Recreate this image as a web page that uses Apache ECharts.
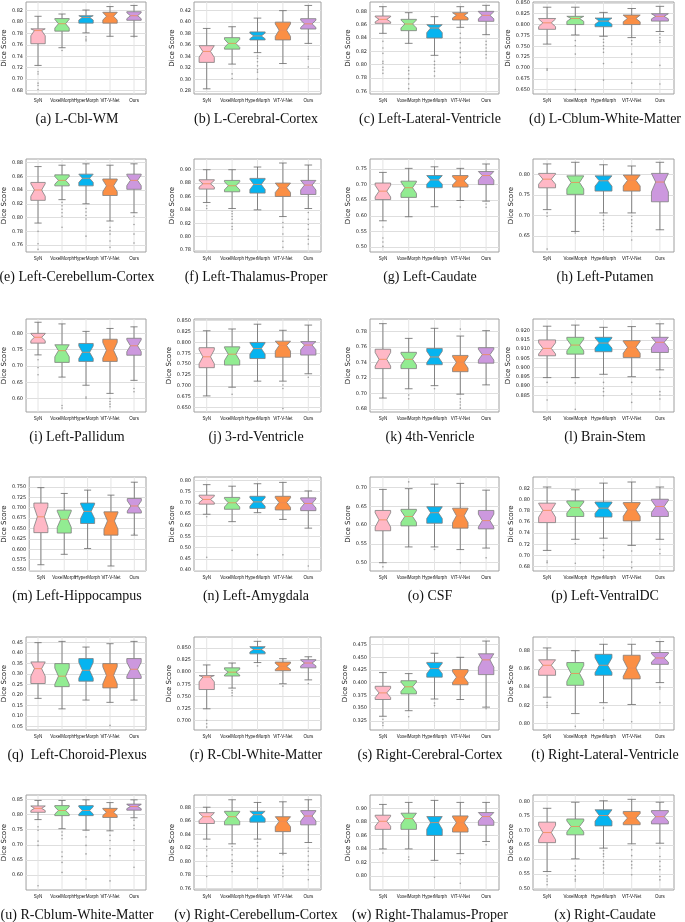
<!DOCTYPE html>
<html><head><meta charset="utf-8">
<script src="https://cdn.jsdelivr.net/npm/echarts@6/dist/echarts.min.js"></script>
<style>html,body{margin:0;padding:0;background:#fff}#c{width:685px;height:922px}</style>
</head><body><div id="c"></div>
<script>
const methods = ['SyN','VoxelMorph','HyperMorph','ViT-V-Net','Ours'];
const boxColors = ['#FFB8C6','#92EC92','#06B4F0','#FB8F45','#CC98DE'];
const captions = ['(a) L-Cbl-WM','(b) L-Cerebral-Cortex','(c) Left-Lateral-Ventricle','(d) L-Cblum-White-Matter',
 '(e) Left-Cerebellum-Cortex','(f) Left-Thalamus-Proper','(g) Left-Caudate','(h) Left-Putamen',
 '(i) Left-Pallidum','(j) 3-rd-Ventricle','(k) 4th-Venricle','(l) Brain-Stem',
 '(m) Left-Hippocampus','(n) Left-Amygdala','(o) CSF','(p) Left-VentralDC',
 '(q)  Left-Choroid-Plexus','(r) R-Cbl-White-Matter','(s) Right-Cerebral-Cortex','(t) Right-Lateral-Ventricle',
 '(u) R-Cblum-White-Matter','(v) Right-Cerebellum-Cortex','(w) Right-Thalamus-Proper','(x) Right-Caudate'];

// each box: [whiskerLow, Q1, median, Q3, whiskerHigh]
const box_a = [[0.724,0.762,0.785,0.788,0.810],[0.755,0.784,0.797,0.806,0.814],[0.781,0.798,0.808,0.811,0.821],[0.775,0.798,0.810,0.817,0.827],[0.775,0.803,0.811,0.818,0.829]];
const out_a = [[0.713,0.709,0.693,0.689,0.682],[0.750],[0.774,0.770,0.767],[],[0.774]];
const ticks_a = ['0.68','0.70','0.72','0.74','0.76','0.78','0.80','0.82'];
const range_a = [0.674,0.835];

const box_b = [[0.284,0.330,0.349,0.359,0.389],[0.327,0.353,0.363,0.373,0.392],[0.347,0.369,0.376,0.383,0.407],[0.328,0.369,0.386,0.400,0.420],[0.363,0.388,0.397,0.406,0.429]];
const out_b = [[],[0.310,0.302],[0.341,0.337,0.331,0.324,0.317,0.313,0.301],[],[0.340,0.336,0.322]];
const ticks_b = ['0.28','0.30','0.32','0.34','0.36','0.38','0.40','0.42'];
const range_b = [0.275,0.435];

const box_c = [[0.847,0.862,0.868,0.873,0.887],[0.832,0.851,0.861,0.868,0.878],[0.814,0.840,0.855,0.860,0.872],[0.856,0.867,0.874,0.878,0.887],[0.845,0.865,0.874,0.880,0.889]];
const out_c = [[0.835,0.825,0.817,0.805,0.802,0.796,0.792,0.787],[0.796,0.791,0.786,0.779,0.771,0.764],[0.805,0.800,0.795,0.790,0.783],[0.847,0.840,0.833,0.825,0.818,0.811,0.803],[0.835,0.830,0.825,0.820,0.815,0.810]];
const ticks_c = ['0.76','0.78','0.80','0.82','0.84','0.86','0.88'];
const range_c = [0.756,0.894];

const box_d = [[0.755,0.789,0.804,0.814,0.840],[0.776,0.800,0.814,0.819,0.840],[0.773,0.795,0.808,0.815,0.828],[0.770,0.800,0.814,0.822,0.837],[0.784,0.808,0.819,0.825,0.842]];
const out_d = [[0.698,0.695],[0.763,0.751,0.732,0.650],[0.766,0.759,0.751,0.744,0.736,0.710,0.672],[0.763,0.755,0.732,0.713,0.665],[0.778,0.770,0.764,0.759,0.706,0.663]];
const ticks_d = ['0.650','0.675','0.700','0.725','0.750','0.775','0.800','0.825','0.850'];
const range_d = [0.640,0.852];

const box_e = [[0.792,0.825,0.840,0.851,0.874],[0.826,0.846,0.854,0.862,0.876],[0.820,0.846,0.857,0.863,0.878],[0.795,0.832,0.846,0.856,0.876],[0.807,0.841,0.854,0.863,0.878]];
const out_e = [[0.780,0.762,0.754],[0.822,0.817,0.812,0.807,0.802,0.786],[0.813,0.808,0.803,0.798,0.773],[0.786,0.781,0.776,0.766,0.757],[0.802,0.790,0.776,0.763]];
const ticks_e = ['0.76','0.78','0.80','0.82','0.84','0.86','0.88'];
const range_e = [0.750,0.885];

const box_f = [[0.851,0.871,0.879,0.885,0.900],[0.842,0.867,0.876,0.884,0.900],[0.840,0.865,0.878,0.887,0.904],[0.830,0.860,0.873,0.880,0.910],[0.842,0.863,0.877,0.884,0.907]];
const out_f = [[0.846,0.842],[0.838,0.834,0.830,0.826,0.820,0.815,0.811],[],[0.821,0.814,0.804,0.793,0.784],[0.836,0.826,0.818,0.811,0.801,0.796,0.789]];
const ticks_f = ['0.78','0.80','0.82','0.84','0.86','0.88','0.90'];
const range_f = [0.777,0.916];

const box_g = [[0.584,0.652,0.679,0.705,0.739],[0.597,0.659,0.690,0.711,0.752],[0.629,0.690,0.715,0.729,0.757],[0.649,0.692,0.712,0.729,0.752],[0.647,0.700,0.729,0.742,0.766]];
const out_g = [[0.564,0.529,0.516,0.502],[],[],[0.628],[0.638,0.627]];
const ticks_g = ['0.50','0.55','0.60','0.65','0.70','0.75'];
const range_g = [0.484,0.782];

const box_h = [[0.714,0.767,0.788,0.802,0.825],[0.661,0.751,0.780,0.796,0.829],[0.706,0.759,0.784,0.796,0.823],[0.706,0.759,0.785,0.798,0.820],[0.665,0.733,0.781,0.802,0.829]];
const out_h = [[0.706,0.698,0.618],[0.657],[0.700,0.689,0.681,0.673,0.665],[0.698,0.689,0.681,0.673,0.661,0.640],[]];
const ticks_h = ['0.65','0.70','0.75','0.80'];
const range_h = [0.611,0.837];

const box_i = [[0.734,0.770,0.788,0.800,0.834],[0.666,0.711,0.747,0.765,0.829],[0.641,0.714,0.742,0.769,0.806],[0.616,0.714,0.748,0.782,0.815],[0.656,0.733,0.762,0.785,0.820]];
const out_i = [[0.719,0.695,0.673],[0.579,0.571],[0.605,0.601],[0.600,0.591,0.583,0.575],[0.631,0.621]];
const ticks_i = ['0.60','0.65','0.70','0.75','0.80'];
const range_i = [0.559,0.844];

const box_j = [[0.677,0.742,0.767,0.788,0.827],[0.697,0.748,0.773,0.790,0.831],[0.711,0.763,0.786,0.800,0.842],[0.711,0.766,0.793,0.803,0.828],[0.728,0.771,0.794,0.802,0.840]];
const out_j = [[],[0.681],[],[0.702,0.694,0.648],[0.720]];
const ticks_j = ['0.650','0.675','0.700','0.725','0.750','0.775','0.800','0.825','0.850'];
const range_j = [0.640,0.854];

const box_k = [[0.694,0.732,0.744,0.757,0.790],[0.706,0.732,0.744,0.753,0.771],[0.710,0.737,0.747,0.758,0.784],[0.699,0.728,0.740,0.749,0.774],[0.711,0.739,0.750,0.759,0.781]];
const out_k = [[],[0.698,0.693],[0.706],[0.783,0.693,0.689,0.685,0.681],[]];
const ticks_k = ['0.68','0.70','0.72','0.74','0.76','0.78'];
const range_k = [0.676,0.796];

const box_l = [[0.8946,0.9064,0.9104,0.9150,0.9224],[0.8946,0.9073,0.9122,0.9164,0.9230],[0.8964,0.9086,0.9133,0.9164,0.9218],[0.8951,0.9055,0.9110,0.9146,0.9222],[0.8988,0.9082,0.9137,0.9164,0.9237]];
const out_l = [[0.8920,0.8825],[0.8917,0.8775],[0.8920,0.8888,0.8870,0.8848],[0.8920,0.8857,0.8812],[0.8946,0.8870,0.8852,0.8830]];
const ticks_l = ['0.885','0.890','0.895','0.900','0.905','0.910','0.915','0.920'];
const range_l = [0.876,0.9263];

const box_m = [[0.563,0.640,0.678,0.711,0.748],[0.588,0.639,0.672,0.694,0.734],[0.602,0.662,0.691,0.711,0.742],[0.560,0.634,0.668,0.690,0.730],[0.634,0.687,0.704,0.722,0.761]];
const out_m = [[],[],[],[],[0.637]];
const ticks_m = ['0.550','0.575','0.600','0.625','0.650','0.675','0.700','0.725','0.750'];
const range_m = [0.548,0.7735];

const box_n = [[0.649,0.694,0.715,0.734,0.781],[0.616,0.671,0.700,0.724,0.774],[0.656,0.675,0.704,0.729,0.785],[0.626,0.668,0.701,0.729,0.791],[0.587,0.665,0.697,0.722,0.753]];
const out_n = [[0.638,0.457],[0.488],[0.468],[0.468],[0.418]];
const ticks_n = ['0.40','0.45','0.50','0.55','0.60','0.65','0.70','0.75','0.80'];
const range_n = [0.396,0.815];

const box_o = [[0.500,0.585,0.614,0.639,0.695],[0.542,0.598,0.623,0.642,0.697],[0.542,0.605,0.633,0.649,0.709],[0.535,0.592,0.625,0.645,0.711],[0.539,0.590,0.612,0.639,0.693]];
const out_o = [[0.489],[0.715],[0.535],[0.500],[0.513]];
const ticks_o = ['0.50','0.55','0.60','0.65','0.70'];
const range_o = [0.478,0.728];

const box_p = [[0.709,0.759,0.781,0.794,0.823],[0.729,0.770,0.786,0.798,0.818],[0.731,0.769,0.785,0.796,0.830],[0.718,0.762,0.782,0.795,0.832],[0.729,0.770,0.788,0.801,0.823]];
const out_p = [[0.690,0.687],[0.721,0.686],[0.719,0.709,0.699,0.696],[0.708,0.688,0.678],[0.711,0.703]];
const ticks_p = ['0.68','0.70','0.72','0.74','0.76','0.78','0.80','0.82'];
const range_p = [0.672,0.841];

const box_q = [[0.184,0.255,0.326,0.358,0.450],[0.134,0.240,0.290,0.350,0.456],[0.176,0.266,0.318,0.374,0.429],[0.165,0.234,0.294,0.350,0.445],[0.176,0.279,0.323,0.374,0.456]];
const out_q = [[],[],[],[0.055],[]];
const ticks_q = ['0.05','0.10','0.15','0.20','0.25','0.30','0.35','0.40','0.45'];
const range_q = [0.033,0.477];

const box_r = [[0.724,0.764,0.790,0.793,0.815],[0.767,0.792,0.800,0.809,0.819],[0.820,0.838,0.847,0.853,0.864],[0.776,0.803,0.812,0.821,0.828],[0.784,0.809,0.819,0.826,0.832]];
const out_r = [[0.700,0.693,0.686],[0.762,0.757,0.751],[0.813],[0.771],[0.776]];
const ticks_r = ['0.700','0.725','0.750','0.775','0.800','0.825','0.850'];
const range_r = [0.680,0.873];

const box_s = [[0.334,0.367,0.380,0.393,0.420],[0.345,0.378,0.392,0.404,0.418],[0.368,0.411,0.428,0.440,0.458],[0.367,0.396,0.411,0.426,0.450],[0.352,0.416,0.445,0.457,0.482]];
const out_s = [[0.328,0.321,0.316],[0.333],[0.360,0.355],[],[0.349]];
const ticks_s = ['0.325','0.350','0.375','0.400','0.425','0.450','0.475'];
const range_s = [0.307,0.490];

const box_t = [[0.829,0.853,0.864,0.870,0.883],[0.811,0.842,0.855,0.867,0.880],[0.823,0.853,0.864,0.876,0.887],[0.821,0.849,0.861,0.875,0.887],[0.845,0.865,0.872,0.878,0.890]];
const out_t = [[0.823,0.820,0.818],[0.797],[0.817,0.804],[0.802],[0.840,0.838,0.823]];
const ticks_t = ['0.80','0.82','0.84','0.86','0.88'];
const range_t = [0.793,0.895];

const box_u = [[0.783,0.807,0.820,0.828,0.846],[0.753,0.796,0.813,0.829,0.846],[0.748,0.796,0.813,0.829,0.848],[0.746,0.790,0.807,0.820,0.839],[0.789,0.814,0.826,0.834,0.848]];
const out_u = [[0.759,0.748,0.712,0.698,0.565],[0.742,0.731,0.720,0.676,0.661,0.642,0.609],[0.726,0.698,0.670,0.587],[0.731,0.714,0.687,0.664,0.581],[0.781,0.764,0.753,0.714,0.683,0.626]];
const ticks_u = ['0.60','0.65','0.70','0.75','0.80','0.85'];
const range_u = [0.551,0.864];

const box_v = [[0.833,0.856,0.866,0.872,0.880],[0.826,0.854,0.866,0.874,0.891],[0.833,0.858,0.869,0.874,0.887],[0.812,0.844,0.859,0.866,0.888],[0.828,0.854,0.867,0.875,0.891]];
const out_v = [[0.822,0.817,0.808,0.793,0.778],[0.822,0.817,0.810,0.802,0.797,0.793,0.785],[0.828,0.823,0.815,0.808,0.800,0.790,0.775],[0.810,0.793,0.788,0.783,0.778],[0.820,0.815,0.808,0.800,0.795,0.788,0.773]];
const ticks_v = ['0.76','0.78','0.80','0.82','0.84','0.86','0.88'];
const range_v = [0.758,0.898];

const box_w = [[0.840,0.869,0.881,0.890,0.906],[0.840,0.869,0.885,0.893,0.909],[0.823,0.860,0.879,0.888,0.912],[0.833,0.865,0.879,0.889,0.909],[0.851,0.875,0.888,0.894,0.909]];
const out_w = [[0.834],[0.828,0.824],[0.798],[0.824,0.818,0.789],[0.846]];
const ticks_w = ['0.80','0.82','0.84','0.86','0.88','0.90'];
const range_w = [0.779,0.920];

const box_x = [[0.558,0.658,0.693,0.729,0.777],[0.602,0.685,0.714,0.740,0.798],[0.639,0.716,0.752,0.772,0.803],[0.654,0.720,0.743,0.766,0.808],[0.656,0.723,0.748,0.769,0.798]];
const out_x = [[0.543,0.532,0.524,0.512],[0.577,0.562,0.542,0.531,0.525],[0.630,0.619,0.610,0.593,0.581,0.570,0.553],[0.633,0.613,0.593,0.581,0.570,0.547],[0.639,0.610,0.593,0.576,0.564,0.541,0.529]];
const ticks_x = ['0.50','0.55','0.60','0.65','0.70','0.75','0.80'];
const range_x = [0.494,0.823];

const panels = [
 [box_a,out_a,ticks_a,range_a],[box_b,out_b,ticks_b,range_b],[box_c,out_c,ticks_c,range_c],[box_d,out_d,ticks_d,range_d],
 [box_e,out_e,ticks_e,range_e],[box_f,out_f,ticks_f,range_f],[box_g,out_g,ticks_g,range_g],[box_h,out_h,ticks_h,range_h],
 [box_i,out_i,ticks_i,range_i],[box_j,out_j,ticks_j,range_j],[box_k,out_k,ticks_k,range_k],[box_l,out_l,ticks_l,range_l],
 [box_m,out_m,ticks_m,range_m],[box_n,out_n,ticks_n,range_n],[box_o,out_o,ticks_o,range_o],[box_p,out_p,ticks_p,range_p],
 [box_q,out_q,ticks_q,range_q],[box_r,out_r,ticks_r,range_r],[box_s,out_s,ticks_s,range_s],[box_t,out_t,ticks_t,range_t],
 [box_u,out_u,ticks_u,range_u],[box_v,out_v,ticks_v,range_v],[box_w,out_w,ticks_w,range_w],[box_x,out_x,ticks_x,range_x]
];

// layout (pixels)
const colLeft = [16, 194, 370, 533];
const colRight = [146, 321, 499, 674];
const rowTop = [2, 159, 319, 477, 637, 795];
const rowBottom = [94, 252, 412, 571, 730, 890];
const capX = [77, 256, 430, 605];

function renderBox(params, api) {
  const i = api.value(0);
  const wl = api.value(1), q1 = api.value(2), md = api.value(3), q3 = api.value(4), wh = api.value(5);
  const cx = api.coord([i, md])[0];
  const Y = v => api.coord([i, v])[1];
  const bw = api.size([1, 0])[0] * 0.6;
  const iqr = q3 - q1;
  const nlo = Math.max(q1, md - 0.35 * iqr), nhi = Math.min(q3, md + 0.35 * iqr);
  const cs = params.coordSys;
  const L = cx - bw / 2, R = cx + bw / 2, l2 = cx - bw / 4, r2 = cx + bw / 4;
  const wc = '#6a6a6a';
  return {
    type: 'group',
    children: [
      {type: 'line', shape: {x1: cx, y1: cs.y, x2: cx, y2: cs.y + cs.height}, style: {stroke: '#e4e4e4', lineWidth: 1}},
      {type: 'line', shape: {x1: cx, y1: Y(wl), x2: cx, y2: Y(q1)}, style: {stroke: wc, lineWidth: 0.8}},
      {type: 'line', shape: {x1: cx, y1: Y(q3), x2: cx, y2: Y(wh)}, style: {stroke: wc, lineWidth: 0.8}},
      {type: 'line', shape: {x1: l2, y1: Y(wl), x2: r2, y2: Y(wl)}, style: {stroke: wc, lineWidth: 0.8}},
      {type: 'line', shape: {x1: l2, y1: Y(wh), x2: r2, y2: Y(wh)}, style: {stroke: wc, lineWidth: 0.8}},
      {type: 'polygon', shape: {points: [
        [L, Y(q1)], [L, Y(nlo)], [l2, Y(md)], [L, Y(nhi)], [L, Y(q3)],
        [R, Y(q3)], [R, Y(nhi)], [r2, Y(md)], [R, Y(nlo)], [R, Y(q1)]
      ]}, style: {fill: boxColors[i], stroke: '#7d7d7d', lineWidth: 0.8}},
      {type: 'line', shape: {x1: l2, y1: Y(md), x2: r2, y2: Y(md)}, style: {stroke: '#ef8a55', lineWidth: 0.8}}
    ]
  };
}

const grid = [], xAxis = [], yAxis = [], series = [], graphic = [];
panels.forEach((p, k) => {
  const [box, out, ticks, range] = p;
  const r = Math.floor(k / 4), c = k % 4;
  grid.push({left: colLeft[c], top: rowTop[r], width: colRight[c] - colLeft[c], height: rowBottom[r] - rowTop[r],
    show: true, borderColor: '#a0a0a0', borderWidth: 1, backgroundColor: '#fff', containLabel: false});
  xAxis.push({type: 'category', gridIndex: k, data: methods, boundaryGap: true,
    axisLine: {show: false}, axisTick: {show: false}, splitLine: {show: false},
    axisLabel: {interval: 0, fontSize: 4.5, margin: 4, color: '#111', fontFamily: 'Liberation Sans'}});
  const tv = ticks.map(Number);
  yAxis.push({type: 'value', gridIndex: k, min: range[0], max: range[1],
    name: 'Dice Score', nameLocation: 'middle', nameGap: 13,
    nameTextStyle: {fontSize: 7, color: '#222', fontFamily: 'DejaVu Sans'},
    axisLine: {show: false}, axisTick: {show: false, customValues: tv},
    axisLabel: {customValues: tv, fontSize: 5, margin: 3, color: '#222', fontFamily: 'DejaVu Sans',
      formatter: v => { const idx = tv.findIndex(t => Math.abs(t - v) < 1e-9); return idx >= 0 ? ticks[idx] : ''; }},
    splitLine: {show: true, lineStyle: {color: '#dedede', width: 1}}});
  series.push({type: 'custom', xAxisIndex: k, yAxisIndex: k, z: 2, renderItem: renderBox,
    encode: {x: 0, y: [1, 2, 3, 4, 5]},
    data: box.map((b, i) => [i].concat(b))});
  const pts = [];
  out.forEach((arr, i) => arr.forEach(v => pts.push([i, v])));
  series.push({type: 'scatter', xAxisIndex: k, yAxisIndex: k, z: 3, symbol: 'circle', symbolSize: 1.6,
    itemStyle: {color: '#8a8a8a'}, data: pts, silent: true});
  graphic.push({type: 'text', x: capX[c], y: rowBottom[r] + 25,
    style: {text: captions[k], font: '14px "Liberation Serif"', fill: '#111', textAlign: 'center', textVerticalAlign: 'middle'}});
});

const chart = echarts.init(document.getElementById('c'), null, {renderer: 'canvas'});
chart.setOption({animation: false, backgroundColor: '#fff', grid, xAxis, yAxis, series, graphic});
</script>
</body></html>
